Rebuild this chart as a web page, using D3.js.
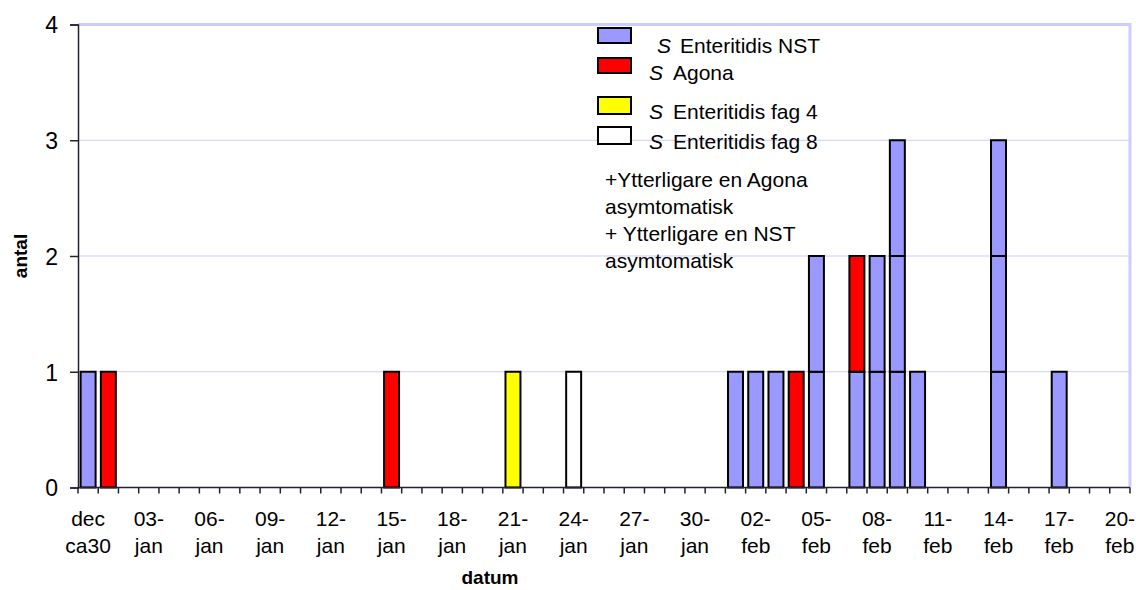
<!DOCTYPE html>
<html>
<head>
<meta charset="utf-8">
<script src="https://cdn.jsdelivr.net/npm/d3@7"></script>
<style>
  body { margin: 0; background: #fff; }
  svg { display: block; font-family: "Liberation Sans", Arial, sans-serif; }
</style>
</head>
<body>
<div id="chart"></div>
<script>
// dagar (kategorier), "dec ca30" först och sedan jan/feb
var categories = ["dec ca30",
  "01-jan","02-jan","03-jan","04-jan","05-jan","06-jan","07-jan","08-jan","09-jan","10-jan",
  "11-jan","12-jan","13-jan","14-jan","15-jan","16-jan","17-jan","18-jan","19-jan","20-jan",
  "21-jan","22-jan","23-jan","24-jan","25-jan","26-jan","27-jan","28-jan","29-jan","30-jan","31-jan",
  "01-feb","02-feb","03-feb","04-feb","05-feb","06-feb","07-feb","08-feb","09-feb","10-feb",
  "11-feb","12-feb","13-feb","14-feb","15-feb","16-feb","17-feb","18-feb","19-feb","20-feb"];

// antal fall per dag och typ
var nst   = [1, 0,0,0,0,0,0,0,0,0,0, 0,0,0,0,0,0,0,0,0,0, 0,0,0,0,0,0,0,0,0,0,0,
             1,1,1,0,2,0,1,2,3,1, 0,0,0,3,0,0,1,0,0,0];
var agona = [0, 1,0,0,0,0,0,0,0,0,0, 0,0,0,0,1,0,0,0,0,0, 0,0,0,0,0,0,0,0,0,0,0,
             0,0,0,1,0,0,1,0,0,0, 0,0,0,0,0,0,0,0,0,0];
var fag4  = [0, 0,0,0,0,0,0,0,0,0,0, 0,0,0,0,0,0,0,0,0,0, 1,0,0,0,0,0,0,0,0,0,0,
             0,0,0,0,0,0,0,0,0,0, 0,0,0,0,0,0,0,0,0,0];
var fag8  = [0, 0,0,0,0,0,0,0,0,0,0, 0,0,0,0,0,0,0,0,0,0, 0,0,0,1,0,0,0,0,0,0,0,
             0,0,0,0,0,0,0,0,0,0, 0,0,0,0,0,0,0,0,0,0];

var seriesNames = ["Enteritidis NST", "Agona", "Enteritidis fag 4", "Enteritidis fag 8"];
var seriesColors = ["#9999ff", "#ff0000", "#ffff00", "#ffffff"];
var yTicks = [0, 1, 2, 3, 4];
var notes = ["+Ytterligare en Agona", "asymtomatisk", "+ Ytterligare en NST", "asymtomatisk"];

var width = 1136, height = 590;
var margin = {left: 78, right: 6, top: 24.5, bottom: 102.5};

var svg = d3.select("#chart").append("svg")
    .attr("width", width)
    .attr("height", height);

var x = d3.scaleBand()
    .domain(categories)
    .range([margin.left, width - margin.right])
    .paddingInner(0.26)
    .paddingOuter(0.13);

var xStep = d3.scaleBand()
    .domain(categories)
    .range([margin.left, width - margin.right]);

var y = d3.scaleLinear()
    .domain([0, 4])
    .range([height - margin.bottom, margin.top]);

// gridlines
svg.append("g").selectAll("line")
    .data([1, 2, 3])
    .enter().append("line")
    .attr("x1", margin.left)
    .attr("x2", width - margin.right)
    .attr("y1", function(d) { return y(d); })
    .attr("y2", function(d) { return y(d); })
    .attr("stroke", "#ccccff")
    .attr("stroke-width", 1);

// plot border top and right
svg.append("path")
    .attr("d", "M" + margin.left + "," + y(4) + "H" + (width - margin.right) + "V" + y(0))
    .attr("fill", "none")
    .attr("stroke", "#ccccff")
    .attr("stroke-width", 3);

// build one rect per case, stacked
var all = [nst, agona, fag4, fag8];
var units = [];
categories.forEach(function(c, i) {
    var level = 0;
    all.forEach(function(s, k) {
        for (var n = 0; n < s[i]; n++) {
            units.push({cat: c, k: k, y0: level, y1: level + 1});
            level++;
        }
    });
});

svg.append("g").selectAll("rect")
    .data(units)
    .enter().append("rect")
    .attr("x", function(d) { return x(d.cat); })
    .attr("width", x.bandwidth())
    .attr("y", function(d) { return y(d.y1); })
    .attr("height", function(d) { return y(d.y0) - y(d.y1); })
    .attr("fill", function(d) { return seriesColors[d.k]; })
    .attr("stroke", "#000")
    .attr("stroke-width", 2);

// y axis
var yAxis = svg.append("g")
    .attr("transform", "translate(" + margin.left + ",0)")
    .call(d3.axisLeft(y).tickValues(yTicks).tickFormat(d3.format("d")).tickSize(8).tickPadding(12));
yAxis.select(".domain").attr("stroke", "#222233").attr("stroke-width", 1.5);
yAxis.selectAll(".tick line").attr("stroke", "#222233").attr("stroke-width", 1.5);
yAxis.selectAll("text")
    .attr("font-size", 23)
    .attr("font-family", "Liberation Sans, Arial, sans-serif")
    .attr("fill", "#000")
    .attr("dy", "0.36em");

// x axis
var xg = svg.append("g");
xg.append("line")
    .attr("x1", margin.left)
    .attr("x2", width - margin.right)
    .attr("y1", y(0))
    .attr("y2", y(0))
    .attr("stroke", "#222233")
    .attr("stroke-width", 1.5);

var bounds = categories.map(function(c) { return xStep(c); });
bounds.push(width - margin.right);
xg.selectAll("line.tk")
    .data(bounds)
    .enter().append("line")
    .attr("class", "tk")
    .attr("x1", function(d) { return d; })
    .attr("x2", function(d) { return d; })
    .attr("y1", y(0))
    .attr("y2", y(0) + 6)
    .attr("stroke", "#222233")
    .attr("stroke-width", 1.5);

var lab = xg.selectAll("text.lab")
    .data(categories.filter(function(c, i) { return i % 3 === 0; }))
    .enter().append("text")
    .attr("class", "lab")
    .attr("text-anchor", "middle")
    .attr("font-size", 21)
    .attr("fill", "#000");
lab.append("tspan")
    .attr("x", function(d) { return x(d) + x.bandwidth() / 2; })
    .attr("y", 526)
    .text(function(d) { return d === "dec ca30" ? "dec" : d.split("-")[0] + "-"; });
lab.append("tspan")
    .attr("x", function(d) { return x(d) + x.bandwidth() / 2; })
    .attr("y", 553)
    .text(function(d) { return d === "dec ca30" ? "ca30" : d.split("-")[1]; });

// axis titles
svg.append("text")
    .attr("x", 490)
    .attr("y", 584)
    .attr("text-anchor", "middle")
    .attr("font-size", 19)
    .attr("font-weight", "bold")
    .text("datum");

svg.append("text")
    .attr("transform", "translate(27,256) rotate(-90)")
    .attr("text-anchor", "middle")
    .attr("font-size", 19)
    .attr("font-weight", "bold")
    .text("antal");

// legend
var legY = [28, 58, 97, 127];
var legH = [15, 15, 17, 17];
var legText = [{sx: 657, nx: 680, by: 53}, {sx: 649, nx: 673, by: 80},
               {sx: 649, nx: 673, by: 119}, {sx: 649, nx: 673, by: 149}];
var leg = svg.append("g");
seriesNames.forEach(function(name, k) {
    leg.append("rect")
        .attr("x", 598)
        .attr("y", legY[k])
        .attr("width", 33)
        .attr("height", legH[k])
        .attr("fill", seriesColors[k])
        .attr("stroke", "#000")
        .attr("stroke-width", 2);
    var t = leg.append("text").attr("font-size", 21).attr("y", legText[k].by);
    t.append("tspan").attr("x", legText[k].sx).attr("font-style", "italic").text("S");
    t.append("tspan").attr("x", legText[k].nx).text(name);
});

leg.selectAll("text.note")
    .data(notes)
    .enter().append("text")
    .attr("class", "note")
    .attr("x", 605)
    .attr("y", function(d, i) { return 187 + i * 27; })
    .attr("font-size", 21)
    .text(function(d) { return d; });
</script>
</body>
</html>
